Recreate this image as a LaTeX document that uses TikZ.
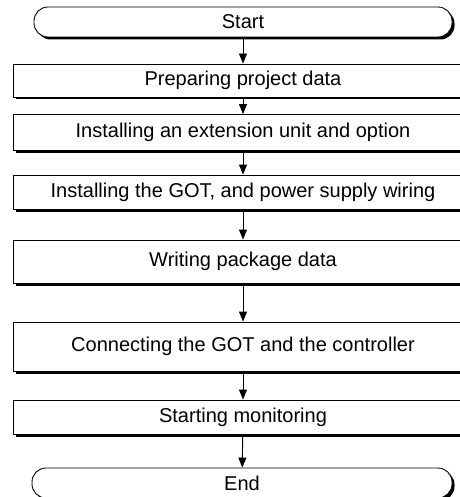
\documentclass[tikz,border=0pt]{standalone}
\usepackage{fontspec}
\setmainfont{Liberation Sans}
\usetikzlibrary{arrows.meta, shadows}

\begin{document}
\begin{tikzpicture}[x=1pt, y=1pt,
  stepbox/.style={draw=black, fill=white, line width=0.9pt, minimum width=460pt,
              inner sep=0pt, align=center, font=\fontsize{20}{24}\selectfont,
              drop shadow={shadow xshift=2.5pt, shadow yshift=-2.5pt, fill=black, opacity=1}},
  term/.style={stepbox, minimum width=418pt, minimum height=30pt, rounded corners=14pt},
  arr/.style={-{Triangle[length=10pt, width=8pt]}, line width=0.9pt}
]
  \useasboundingbox (0,0) rectangle (459,-497);

  \node[term] (start) at (243,-22) {Start};
  \node[stepbox, minimum height=33pt] (prep) at (243,-80.5) {Preparing project data};
  \node[stepbox, minimum height=36pt] (ext) at (243,-132.5) {Installing an extension unit and option};
  \node[stepbox, minimum height=34pt] (inst) at (243,-192) {Installing the GOT, and power supply wiring};
  \node[stepbox, minimum height=43pt] (pkg) at (243,-261.5) {Writing package data};
  \node[stepbox, minimum height=49pt] (conn) at (243,-346.5) {Connecting the GOT and the controller};
  \node[stepbox, minimum height=34pt] (mon) at (243,-417) {Starting monitoring};
  \node[term, minimum width=420pt] (end) at (242,-483) {End};

  \draw[arr] (start) -- (prep);
  \draw[arr] (prep) -- (ext);
  \draw[arr] (ext) -- (inst);
  \draw[arr] (inst) -- (pkg);
  \draw[arr] (pkg) -- (conn);
  \draw[arr] (conn) -- (mon);
  \draw[arr] (mon) -- (end);
\end{tikzpicture}
\end{document}
